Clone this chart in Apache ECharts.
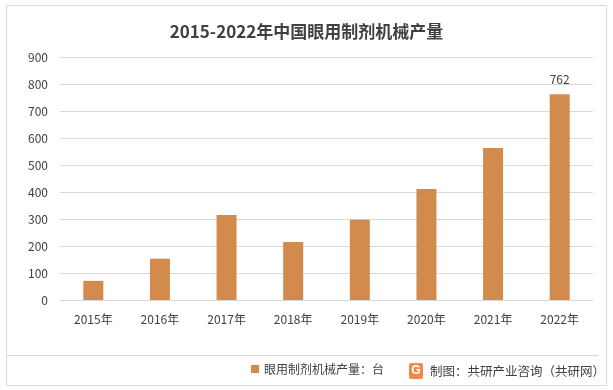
<!DOCTYPE html>
<html><head><meta charset="utf-8">
<script src="https://cdn.jsdelivr.net/npm/echarts@6/dist/echarts.min.js"></script>
<style>html,body{margin:0;padding:0;background:#fff}#c{width:613px;height:390px}</style>
</head><body><div id="c"></div>
<script>
const categories = ['2015年','2016年','2017年','2018年','2019年','2020年','2021年','2022年'];
const values = [71, 153, 315, 215, 297, 411, 563, 762];
const seriesName = '眼用制剂机械产量：台';
const titleText = '2015-2022年中国眼用制剂机械产量';
const sourceText = '制图：共研产业咨询（共研网）';
const font = '"Noto Sans CJK SC", "Microsoft YaHei", sans-serif';
const chart = echarts.init(document.getElementById('c'));
chart.setOption({
  animation: false,
  title: { text: titleText, left: 'center', top: 18, textStyle: { fontFamily: font, fontSize: 17, fontWeight: 'bold', color: '#404040' } },
  legend: { left: 246, top: 358, itemWidth: 8, itemHeight: 8, icon: 'rect', itemGap: 4,
    textStyle: { fontFamily: font, fontSize: 12, color: '#404040' }, data: [seriesName] },
  grid: { left: 60, right: 20, top: 57, bottom: 90 },
  xAxis: { type: 'category', data: categories,
    axisLine: { lineStyle: { color: '#d9d9d9' } }, axisTick: { show: false },
    axisLabel: { fontFamily: font, fontSize: 12, color: '#404040', margin: 13 } },
  yAxis: { type: 'value', min: 0, max: 900, interval: 100,
    axisLine: { show: false }, axisTick: { show: false },
    splitLine: { lineStyle: { color: '#d9d9d9' } },
    axisLabel: { fontFamily: font, fontSize: 12, color: '#404040', margin: 12 } },
  series: [{ name: seriesName, type: 'bar', data: values, barWidth: 20,
    itemStyle: { color: '#D38B4D' },
    label: { show: true, position: 'top', distance: 9, formatter: p => p.dataIndex === values.length - 1 ? p.value : '',
      fontFamily: font, fontSize: 12, color: '#404040' } }],
  graphic: [
    { type: 'rect', shape: { x: 6.5, y: 5.5, width: 600, height: 380 }, style: { fill: 'none', stroke: '#d9d9d9', lineWidth: 1 }, z: -1 },
    { type: 'line', shape: { x1: 6, y1: 355.5, x2: 598, y2: 355.5 }, style: { stroke: '#d9d9d9', lineWidth: 1 } },
    { type: 'rect', shape: { x: 409, y: 363, width: 14, height: 16, r: 2 }, style: { fill: '#F08A4B' } },
    { type: 'text', style: { x: 416, y: 371, text: 'G', fill: '#fff', font: 'bold 12px sans-serif', align: 'center', verticalAlign: 'middle' } },
    { type: 'text', style: { x: 430, y: 371, text: sourceText, fill: '#404040', font: '12.5px ' + font, verticalAlign: 'middle' } }
  ]
});
</script></body></html>
